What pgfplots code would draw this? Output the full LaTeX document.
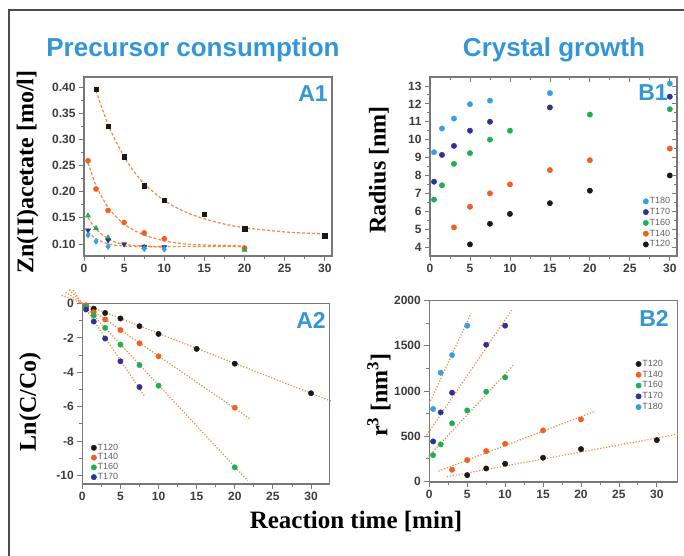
\documentclass[border=0pt]{standalone}
\usepackage{pgfplots}
\pgfplotsset{compat=1.18}
\usepackage{fontspec}
\setmainfont{Liberation Sans}
\newfontfamily\tnr{Liberation Serif}

\definecolor{cblack}{RGB}{25,25,25}
\definecolor{corange}{RGB}{240,95,35}
\definecolor{cgreen}{RGB}{30,175,85}
\definecolor{cnavy}{RGB}{45,50,150}
\definecolor{clblue}{RGB}{55,160,225}
\definecolor{cfit}{RGB}{245,135,60}
\definecolor{ttl}{RGB}{50,150,215}
\definecolor{axgray}{RGB}{120,120,120}
\definecolor{tkl}{RGB}{60,60,60}
\definecolor{lgt}{RGB}{95,95,95}

\pgfplotsset{
  panel/.style={scale only axis, anchor=south west,
    axis line style={axgray, line width=1.1pt},
    every tick/.style={axgray, line width=0.8pt},
    tick align=outside, major tick length=5pt, minor tick length=3pt,
    tick pos=left,
    ticklabel style={font=\bfseries\fontsize{12}{12}\selectfont, text=tkl},
    /pgf/number format/assume math mode=true,
    /pgf/number format/1000 sep={},
    xtick={0,5,10,15,20,25,30}, minor x tick num=1,
    clip=false,
    legend style={draw=none, fill=none, font=\fontsize{9}{10}\selectfont,
      text=lgt, anchor=north west, row sep=1pt, nodes={inner sep=1pt}},
    legend cell align=left,
    legend image code/.code={\draw[##1] plot coordinates {(4pt,0pt)};},
  },
  dot/.style={only marks, mark=*, mark size=2.7pt, mark options={draw=#1, fill=#1}},
  fitd/.style={no markers, cfit, line width=1.2pt, dash pattern=on 3pt off 2pt, forget plot},
  fito/.style={no markers, cfit, line width=1.2pt, dash pattern=on 1.2pt off 1.8pt, forget plot},
}

\begin{document}
\begin{tikzpicture}
\useasboundingbox (0pt,0pt) rectangle (684pt,555pt);
\draw[gray!60!black, line width=1.2pt] (9pt,-5pt) -- (9pt,545pt) -- (690pt,545pt);

\node[font=\bfseries\fontsize{26}{26}\selectfont, text=ttl] at (193pt,505pt) {Precursor consumption};
\node[font=\bfseries\fontsize{26}{26}\selectfont, text=ttl] at (554pt,505pt) {Crystal growth};

\node[font=\tnr\bfseries\fontsize{24}{24}\selectfont, rotate=90] at (27.5pt,383pt) {Zn(II)acetate [mo/l]};
\node[font=\tnr\bfseries\fontsize{24}{24}\selectfont, rotate=90] at (379pt,385pt) {Radius [nm]};
\node[font=\tnr\bfseries\fontsize{24}{24}\selectfont, rotate=90] at (30pt,153pt) {Ln(C/Co)};
\node[font=\tnr\bfseries\fontsize{24}{24}\selectfont, rotate=90] at (379pt,160pt) {r\textsuperscript{3} [nm\textsuperscript{3}]};
\node[font=\tnr\bfseries\fontsize{25}{25}\selectfont] at (356pt,34pt) {Reaction time [min]};

% A1
\begin{axis}[panel, at={(84pt,299pt)}, width=248pt, height=179pt,
  xmin=0, xmax=30.9, ymin=0.077, ymax=0.419,
  ytick={0.10,0.15,0.20,0.25,0.30,0.35,0.40}, minor y tick num=1,
  yticklabel style={/pgf/number format/.cd, fixed, fixed zerofill, precision=2}]
\addplot[fitd, smooth] coordinates {(1.5,0.393)(2,0.370)(3,0.328)(4,0.295)(5,0.267)(6,0.243)(7.5,0.215)(10,0.183)(12.5,0.162)(15,0.148)(17.5,0.138)(20,0.131)(25,0.123)(30,0.119)};
\addplot[fitd, smooth] coordinates {(0.5,0.255)(1,0.232)(1.5,0.212)(2,0.196)(3,0.170)(4,0.152)(5,0.138)(6,0.128)(7.5,0.117)(10,0.106)(12.5,0.100)(15,0.098)(20,0.096)};
\addplot[fitd, smooth] coordinates {(0.5,0.150)(1.5,0.128)(3,0.110)(4,0.103)(5,0.099)(7.5,0.096)(10,0.095)(15,0.095)(20,0.095)};
\addplot[fitd, smooth] coordinates {(0.5,0.123)(1.5,0.110)(3,0.100)(5,0.096)(7.5,0.095)(10,0.094)};
\addplot[only marks, mark=square*, mark size=2.2pt, mark options={draw=cblack, fill=cblack}] coordinates {(1.5,0.396)(3,0.325)(5,0.267)(7.5,0.211)(10,0.184)(15,0.157)(20,0.129)(30,0.116)};
\addplot[only marks, mark=*, mark size=2.6pt, mark options={draw=corange, fill=corange}] coordinates {(0.5,0.259)(1.5,0.205)(3,0.164)(5,0.141)(7.5,0.121)(10,0.110)(20,0.092)};
\addplot[only marks, mark=triangle*, mark size=3pt, mark options={draw=cgreen, fill=cgreen}] coordinates {(0.5,0.154)(1.5,0.130)(3,0.112)(7.5,0.094)(20,0.088)};
\addplot[only marks, mark=triangle*, mark size=3pt, mark options={draw=cnavy, fill=cnavy, rotate=180}] coordinates {(0.5,0.126)(3,0.107)(5,0.0995)(7.5,0.095)(10,0.094)};
\addplot[only marks, mark=diamond*, mark size=3pt, mark options={draw=clblue, fill=clblue}] coordinates {(0.5,0.117)(1.5,0.105)(3,0.095)(7.5,0.091)(10,0.090)};
\end{axis}
\node[font=\bfseries\fontsize{23}{23}\selectfont, text=ttl] at (313pt,461pt) {A1};

% B1
\begin{axis}[panel, at={(430pt,299pt)}, width=247pt, height=179pt,
  xmin=0, xmax=30.9, ymin=3.5, ymax=13.5,
  ytick={4,5,6,7,8,9,10,11,12,13}, minor y tick num=1,
  legend style={at={(0.85,0.345)}}, reverse legend]
\addplot[dot=cblack] coordinates {(5,4.15)(7.5,5.3)(10,5.85)(15,6.45)(20,7.15)(30,8.0)};
\addlegendentry{T120}
\addplot[dot=corange] coordinates {(3,5.1)(5,6.25)(7.5,7.0)(10,7.5)(15,8.3)(20,8.85)(30,9.5)};
\addlegendentry{T140}
\addplot[dot=cgreen] coordinates {(0.5,6.65)(1.5,7.45)(3,8.65)(5,9.25)(7.5,10.0)(10,10.5)(20,11.4)(30,11.7)};
\addlegendentry{T160}
\addplot[dot=cnavy] coordinates {(0.5,7.65)(1.5,9.15)(3,9.65)(5,10.5)(7.5,11.0)(15,11.8)(30,12.4)};
\addlegendentry{T170}
\addplot[dot=clblue] coordinates {(0.5,9.3)(1.5,10.62)(3,11.18)(5,11.98)(7.5,12.18)(15,12.6)(30,13.13)};
\addlegendentry{T180}
\end{axis}
\begin{axis}[scale only axis, anchor=south west, at={(430pt,299pt)}, width=247pt, height=179pt,
  xmin=0, xmax=30.9, ymin=3.5, ymax=13.5,
  axis line style={draw=none}, every tick/.style={axgray, line width=0.8pt},
  tick align=inside, major tick length=5pt, minor tick length=3pt,
  xtick pos=right, ytick pos=right, xtick={0,5,10,15,20,25,30}, minor x tick num=1,
  ytick={4,5,6,7,8,9,10,11,12,13}, minor y tick num=1,
  xticklabels={}, yticklabels={}]
\end{axis}
\node[font=\bfseries\fontsize{23}{23}\selectfont, text=ttl] at (653pt,462pt) {B1};

% A2
\begin{axis}[panel, at={(82.3pt,71pt)}, width=247pt, height=180.5pt,
  xmin=0, xmax=32.4, ymin=-10.5, ymax=0,
  ytick={-10,-8,-6,-4,-2,0}, minor y tick num=1,
  legend style={at={(0.023,0.24)}, row sep=0pt}]
\addplot[fito] coordinates {(-2.7,0.47)(32.7,-5.69)};
\addplot[fito] coordinates {(-2.2,0.67)(22,-6.71)};
\addplot[fito] coordinates {(-1.7,0.81)(21.7,-10.3)};
\addplot[fito] coordinates {(-1.2,0.78)(8.2,-5.41)};
\addplot[dot=cblack] coordinates {(0.5,-0.15)(1.5,-0.3)(3,-0.55)(5,-0.87)(7.5,-1.32)(10,-1.77)(15,-2.64)(20,-3.5)(30,-5.22)};
\addlegendentry{T120}
\addplot[dot=corange] coordinates {(0.5,-0.1)(1.5,-0.5)(3,-0.93)(5,-1.55)(7.5,-2.31)(10,-3.07)(20,-6.06)};
\addlegendentry{T140}
\addplot[dot=cgreen] coordinates {(0.5,-0.2)(1.5,-0.7)(3,-1.42)(5,-2.39)(7.5,-3.58)(10,-4.78)(20,-9.53)};
\addlegendentry{T160}
\addplot[dot=cnavy] coordinates {(0.5,-0.35)(1.5,-1.05)(3,-2.04)(5,-3.36)(7.5,-4.86)};
\addlegendentry{T170}
\end{axis}
\node[font=\bfseries\fontsize{23}{23}\selectfont, text=ttl] at (311pt,235pt) {A2};

% B2
\begin{axis}[panel, at={(429.3pt,73pt)}, width=248pt, height=181.3pt,
  xmin=0, xmax=32.7, ymin=-10, ymax=2000,
  ytick={0,500,1000,1500,2000}, minor y tick num=1,
  legend style={at={(0.82,0.69)}}]
\addplot[fito] coordinates {(2.3,48)(32.8,521)};
\addplot[fito] coordinates {(1.2,111)(21.9,776)};
\addplot[fito] coordinates {(-0.35,251)(11.1,1287)};
\addplot[fito] coordinates {(-0.35,510)(10.95,1904)};
\addplot[fito] coordinates {(0,861)(5.5,1860)};
\addplot[dot=cblack] coordinates {(5,66)(7.5,140)(10,192)(15,259)(20,355)(30,455)};
\addlegendentry{T120}
\addplot[dot=corange] coordinates {(3,126)(5,233)(7.5,333)(10,414)(15,562)(20,684)};
\addlegendentry{T140}
\addplot[dot=cgreen] coordinates {(0.5,288)(1.5,407)(3,640)(5,784)(7.5,991)(10,1150)};
\addlegendentry{T160}
\addplot[dot=cnavy] coordinates {(0.5,440)(1.5,762)(3,980)(7.5,1512)(10,1723)};
\addlegendentry{T170}
\addplot[dot=clblue] coordinates {(0.5,799)(1.5,1202)(3,1397)(5,1723)};
\addlegendentry{T180}
\end{axis}
\node[font=\bfseries\fontsize{23}{23}\selectfont, text=ttl] at (654pt,237pt) {B2};
\end{tikzpicture}
\end{document}
